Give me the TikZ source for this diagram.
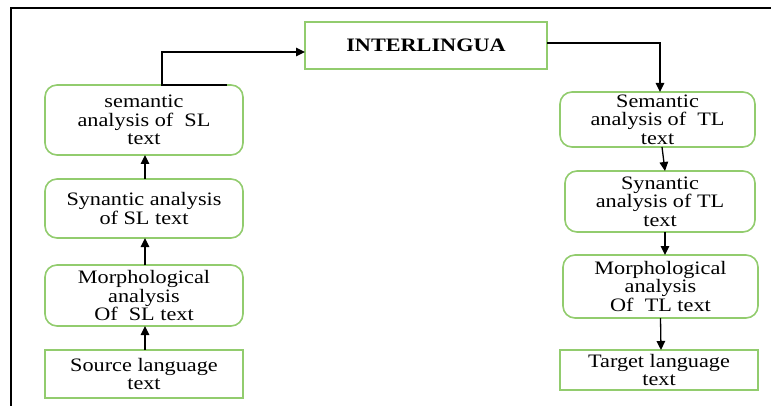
\documentclass[tikz,border=0pt]{standalone}
\usepackage{fontspec}
\setmainfont{Liberation Serif}[FakeStretch=1.17]
\usetikzlibrary{arrows.meta}
\definecolor{boxgreen}{RGB}{146,204,110}
\begin{document}
\begin{tikzpicture}[x=1pt,y=-1pt,
  box/.style={draw=boxgreen,line width=1.6pt,fill=white,inner sep=0pt,outer sep=0pt,
    align=center,font=\fontsize{19}{18.5}\selectfont},
  rbox/.style={box,rounded corners=12pt},
  link/.style={draw=black,line width=1.3pt,-{Triangle[length=9pt,width=8.5pt]}}]
\useasboundingbox (0,0) rectangle (771,406);
% outer frame
\draw[line width=2pt] (771,8) -- (11,8) -- (11,406);

% central node
\node[box,minimum width=242pt,minimum height=47pt] (inter) at (426,45.5) {\textbf{INTERLINGUA}};

% source-language side
\node[rbox,minimum width=198pt,minimum height=70pt] (sem) at (144,120) {semantic\\analysis of\ \ SL\\text};
\node[rbox,minimum width=198pt,minimum height=59pt] (syn) at (144,208.5) {Synantic analysis\\of SL text};
\node[rbox,minimum width=198pt,minimum height=61pt] (mor) at (144,295.5) {Morphological\\analysis\\Of\ \ SL text};
\node[box,minimum width=198pt,minimum height=48pt] (src) at (144,374) {Source language\\text};

% target-language side
\node[rbox,minimum width=195pt,minimum height=55pt] (semTL) at (657.5,119.5) {Semantic\\analysis of\ \ TL\\text};
\node[rbox,minimum width=190pt,minimum height=61pt] (synTL) at (660,201.5) {Synantic\\analysis of TL\\text};
\node[rbox,minimum width=195pt,minimum height=63pt] (morTL) at (660.5,286.5) {Morphological\\analysis\\Of\ \ TL text};
\node[box,minimum width=198pt,minimum height=40pt] (tgt) at (659,370) {Target language\\text};

% analysis chain upwards
\draw[link] ([xshift=1pt]src.north) -- ([xshift=1pt]mor.south);
\draw[link] ([xshift=1pt]mor.north) -- ([xshift=1pt]syn.south);
\draw[link] ([xshift=1pt]syn.north) -- ([xshift=1pt]sem.south);
\draw[link] ([xshift=83pt]sem.north) -- ([xshift=18pt]sem.north) |- ([yshift=-6.5pt]inter.west);

% generation chain downwards
\draw[link] ([yshift=2.5pt]inter.east) -| ([xshift=2.5pt]semTL.north);
\draw[link] ([xshift=4.5pt]semTL.south) -- ([xshift=5pt]synTL.north);
\draw[link] ([xshift=5pt]synTL.south) -- ([xshift=4.5pt]morTL.north);
\draw[link] (morTL.south) -- ([xshift=2pt]tgt.north);
\end{tikzpicture}
\end{document}
